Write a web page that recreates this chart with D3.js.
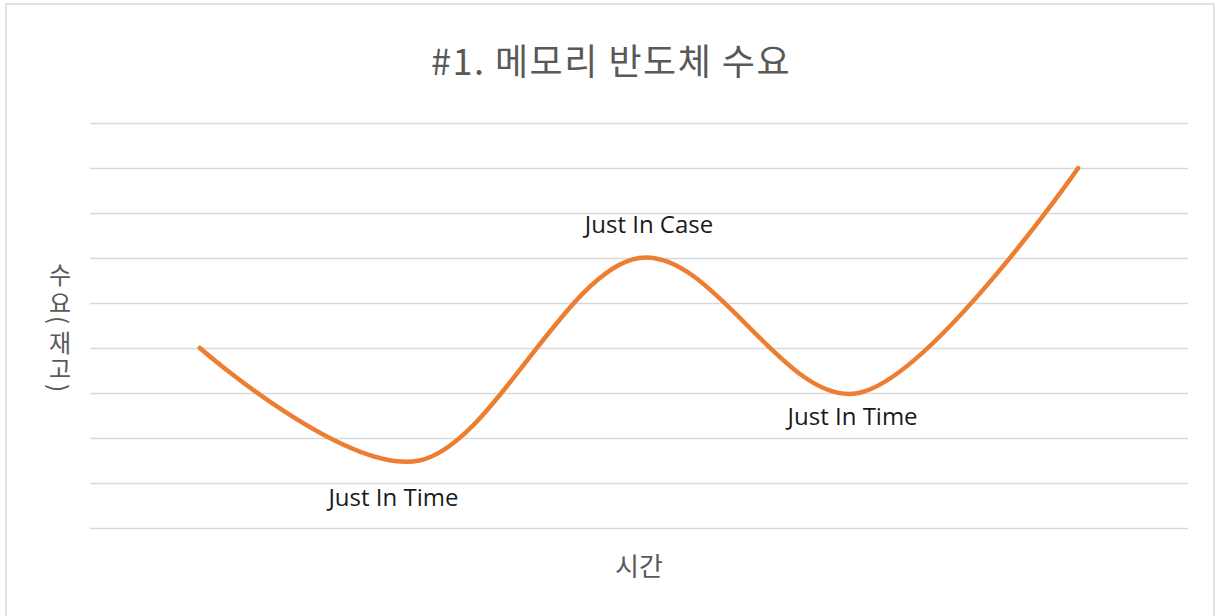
<!DOCTYPE html>
<html><head><meta charset="utf-8">
<script src="https://cdn.jsdelivr.net/npm/d3@7"></script>
<style>
html,body{margin:0;padding:0;background:#fff;}
svg{display:block;}
</style></head>
<body>
<svg id="chart" width="1217" height="616"></svg>
<script>
const categories = ["t1", "t2", "t3", "t4", "t5"];
const demand = [4, 1.5, 6, 3, 8];
const annotations = ["", "Just In Time", "Just In Case", "Just In Time", ""];
const yTicks = [0, 1, 2, 3, 4, 5, 6, 7, 8, 9];
const titleText = "#1. 메모리 반도체 수요";
const yTitle = "수요 (재고)";
const xTitle = "시간";

const svg = d3.select("#chart");
const plot = {left: 90, right: 1188, top: 123, bottom: 528};

svg.append("rect").attr("x", 6).attr("y", 4).attr("width", 1208).attr("height", 640)
  .attr("fill", "#fff").attr("stroke", "#d9d9d9").attr("stroke-width", 1.5);

const x = d3.scalePoint().domain(categories).range([plot.left, plot.right]).padding(0.5);
const y = d3.scaleLinear().domain([0, 9]).range([plot.bottom, plot.top]);

const grid = svg.append("g").attr("transform", `translate(${plot.left},0)`).call(
  d3.axisLeft(y).tickValues(yTicks).tickSize(-(plot.right - plot.left)).tickFormat("")
);
grid.select(".domain").remove();
grid.selectAll(".tick line").attr("stroke", "#d9d9d9").attr("stroke-width", 1.5);

svg.append("text").attr("x", 611).attr("y", 75).attr("text-anchor", "middle")
  .attr("font-family", "'Noto Sans CJK KR', 'Noto Sans', sans-serif")
  .attr("font-size", 36).attr("letter-spacing", "1.5px").attr("fill", "#595959").text(titleText);

svg.append("text").attr("x", 639).attr("y", 576).attr("text-anchor", "middle")
  .attr("font-family", "'Noto Sans CJK KR', sans-serif")
  .attr("font-size", 26).attr("fill", "#595959").text(xTitle);

// vertical stacked y-axis title
const yChars = Array.from(yTitle).filter(c => c !== " ");
const yCenters = [273, 301, 320, 341, 367, 388];
const yg = svg.append("g").attr("font-family", "'Noto Sans CJK KR', sans-serif")
  .attr("font-size", 24).attr("fill", "#595959");
yChars.forEach((c, i) => {
  const rot = (c === "(" || c === ")") ? 90 : 0;
  yg.append("text").attr("transform", `translate(60,${yCenters[i]}) rotate(${rot})`)
    .attr("text-anchor", "middle").attr("dominant-baseline", "central").text(c);
});

const line = d3.line().x((d, i) => x(categories[i])).y(d => y(d)).curve(d3.curveCardinal.tension(0));
svg.append("path").datum(demand).attr("d", line).attr("fill", "none")
  .attr("stroke", "#ED7D31").attr("stroke-width", 4.5).attr("stroke-linecap", "round");

const labelOffsets = [[0, 0], [-26, 45], [10, -25], [-6, 32], [0, 0]];
const labelData = demand.map((v, i) => ({v, i})).filter(d => annotations[d.i] !== "");
svg.append("g").selectAll("text").data(labelData).join("text")
  .attr("x", d => x(categories[d.i]) + labelOffsets[d.i][0])
  .attr("y", d => y(d.v) + labelOffsets[d.i][1])
  .attr("text-anchor", "middle")
  .attr("font-family", "'Open Sans', sans-serif")
  .attr("font-size", 24).attr("fill", "#1a1a1a")
  .text(d => annotations[d.i]);
</script>
</body></html>
